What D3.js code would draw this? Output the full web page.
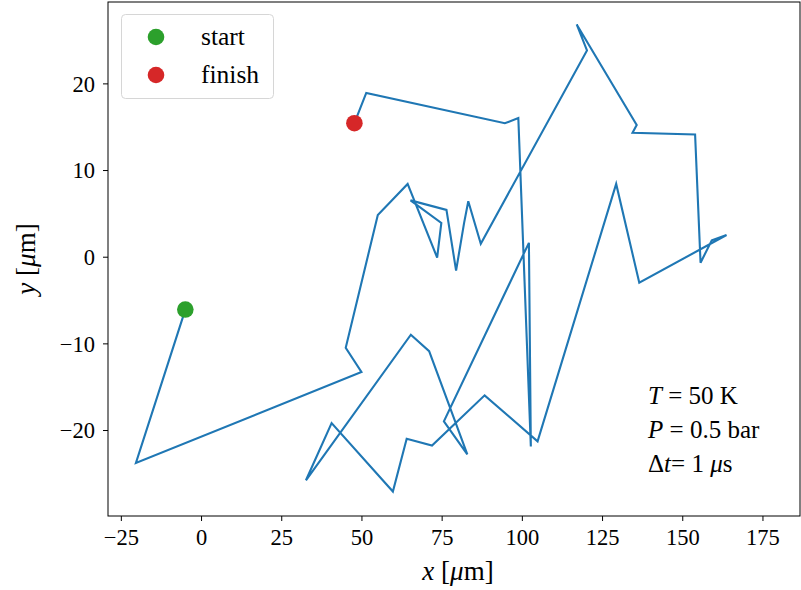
<!DOCTYPE html>
<html lang="en">
<head>
<meta charset="UTF-8">
<title>random walk</title>
<script src="https://cdn.jsdelivr.net/npm/d3@7"></script>
<style>
  body { margin: 0; background: #fff; }
  svg { display: block; font-family: "Liberation Serif", "DejaVu Serif", serif; }
  .axis text { font-family: "Liberation Serif", "DejaVu Serif", serif; font-size: 22.5px; fill: #000; }
  .axis path, .axis line { stroke: #000; stroke-width: 1; }
</style>
</head>
<body>
<div id="output"></div>
<script>

// trajectory, micrometres
var xs = [-4.9, -20.3, 50.0, 45.1, 55.1, 64.4, 73.6, 74.9, 65.3, 76.5, 79.5, 82.0, 83.3, 87.2,
          120.3, 117.1, 135.8, 134.5, 154.0, 155.7, 159.2, 163.8, 136.6, 129.4, 104.9, 88.4,
          72.0, 64.1, 59.8, 40.7, 32.7, 65.4, 71.1, 83.0, 75.7, 102.2, 102.8, 98.9, 94.7, 51.5, 47.8];
var ys = [-6.1, -23.8, -13.3, -10.5, 4.8, 8.4, -0.1, 3.9, 6.5, 5.4, -1.6, 3.9, 6.4, 1.5,
          23.8, 26.8, 15.2, 14.3, 14.1, -0.7, 1.9, 2.5, -3.0, 8.4, -21.3, -16.0,
          -21.8, -21.0, -27.1, -19.2, -25.8, -9.0, -10.9, -22.8, -19.0, 1.6, -21.9, 16.0, 15.4, 18.9, 15.4];

var xTicks = [-25, 0, 25, 50, 75, 100, 125, 150, 175];
var yTicks = [-20, -10, 0, 10, 20];
var legendLabels = ["start", "finish"];
var legendColors = ["#2ca02c", "#d62728"];
// alternating upright / italic pieces of each line
var notes = [["", "T", " = 50 K"], ["", "P", " = 0.5 bar"], ["\u0394", "t", "= 1 ", "\u03bc", "s"]];

var w = 801, h = 590;
var padLeft = 108, padRight = 800, padTop = 2, padBottom = 516;

var svg = d3.select("#output").append("svg")
    .attr("width", w).attr("height", h);

var xScale = d3.scaleLinear().domain([-29.0, 186.7]).range([padLeft, padRight]);
var yScale = d3.scaleLinear().domain([-29.92, 29.39]).range([padBottom, padTop]);

var points = xs.map(function(x, i){ return [x, ys[i]]; });

var line = d3.line()
    .x(function(d){ return xScale(d[0]); })
    .y(function(d){ return yScale(d[1]); });

svg.append("path")
    .datum(points)
    .attr("d", line)
    .attr("fill", "none")
    .attr("stroke", "#1f77b4")
    .attr("stroke-width", 2.1)
    .attr("stroke-linejoin", "miter");

// start / finish markers
var ends = [points[0], points[points.length - 1]];
svg.selectAll("circle.end")
    .data(ends)
    .enter().append("circle")
    .attr("class", "end")
    .attr("cx", function(d){ return xScale(d[0]); })
    .attr("cy", function(d){ return yScale(d[1]); })
    .attr("r", 8.3)
    .attr("fill", function(d, i){ return legendColors[i]; });

function fmt(d){ return d < 0 ? "\u2212" + Math.abs(d) : d; }

// axes
var xAxis = svg.append("g").attr("class", "axis")
    .attr("transform", "translate(0," + padBottom + ")")
    .call(d3.axisBottom(xScale).tickValues(xTicks).tickSize(5).tickSizeOuter(0).tickPadding(5).tickFormat(fmt));

var yAxis = svg.append("g").attr("class", "axis")
    .attr("transform", "translate(" + padLeft + ",0)")
    .call(d3.axisLeft(yScale).tickValues(yTicks).tickSize(5).tickSizeOuter(0).tickPadding(8).tickFormat(fmt));

xAxis.attr("font-family", null).attr("font-size", null);
yAxis.attr("font-family", null).attr("font-size", null);
xAxis.selectAll("text").attr("dy", "0.85em");
yAxis.selectAll("text").attr("dy", "0.35em");
svg.selectAll(".axis .domain").remove();

svg.append("rect")
    .attr("x", padLeft).attr("y", padTop)
    .attr("width", padRight - padLeft).attr("height", padBottom - padTop)
    .attr("fill", "none").attr("stroke", "#000").attr("stroke-width", 1);

// axis labels
var xl = svg.append("text")
    .attr("x", 458).attr("y", 580)
    .attr("text-anchor", "middle")
    .style("font-size", "27px");
xl.append("tspan").style("font-style", "italic").text("x");
xl.append("tspan").text(" [");
xl.append("tspan").style("font-style", "italic").text("\u03bc");
xl.append("tspan").text("m]");

var yl = svg.append("text")
    .attr("transform", "translate(35,259) rotate(-90)")
    .attr("text-anchor", "middle")
    .style("font-size", "27px");
yl.append("tspan").style("font-style", "italic").text("y");
yl.append("tspan").text(" [");
yl.append("tspan").style("font-style", "italic").text("\u03bc");
yl.append("tspan").text("m]");

// legend
var legend = svg.append("g");
legend.append("rect")
    .attr("x", 121.5).attr("y", 14.5)
    .attr("width", 152).attr("height", 84)
    .attr("rx", 4)
    .attr("fill", "#fff").attr("fill-opacity", 0.8)
    .attr("stroke", "#d6d6d6").attr("stroke-width", 1);

var items = legend.selectAll("g.item")
    .data(legendLabels)
    .enter().append("g")
    .attr("class", "item")
    .attr("transform", function(d, i){ return "translate(0," + (37 + i * 38) + ")"; });
items.append("circle")
    .attr("cx", 156).attr("cy", 0).attr("r", 8.3)
    .attr("fill", function(d, i){ return legendColors[i]; });
items.append("text")
    .attr("x", 201).attr("y", 8)
    .style("font-size", "25.5px")
    .text(function(d){ return d; });

// conditions
var nt = svg.selectAll("text.note")
    .data(notes)
    .enter().append("text")
    .attr("class", "note")
    .attr("x", 648)
    .attr("y", function(d, i){ return 404 + i * 34; })
    .style("font-size", "25px");
nt.selectAll("tspan")
    .data(function(d){ return d; })
    .enter().append("tspan")
    .style("font-style", function(d, i){ return i % 2 ? "italic" : "normal"; })
    .text(function(d){ return d; });

</script>
</body>
</html>
